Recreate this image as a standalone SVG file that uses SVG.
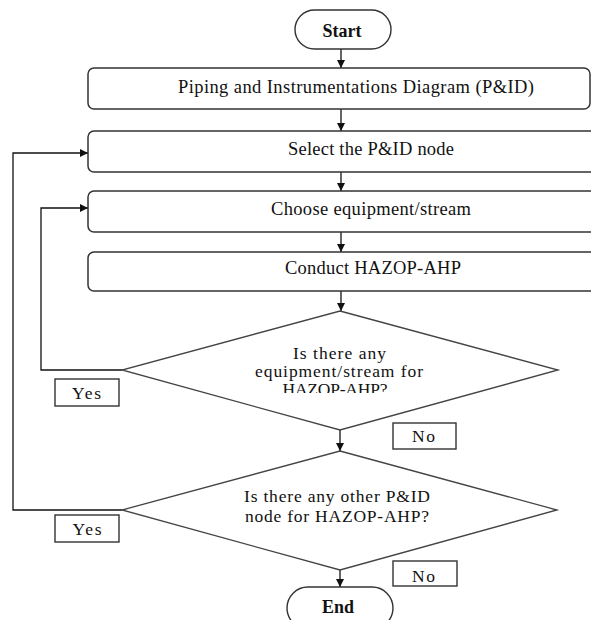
<svg xmlns="http://www.w3.org/2000/svg" width="591" height="620" viewBox="0 0 591 620">
<style>
text{font-family:"Liberation Serif","Times New Roman",serif;font-size:18.5px;fill:#111;text-anchor:middle}
.dt{font-size:17.5px}
.term{fill:#fff;stroke:#333;stroke-width:1.4}
.box{fill:#fff;stroke:#333;stroke-width:1.5}
.dia{fill:#fff;stroke:#444;stroke-width:1.3}
.lbl{fill:#fff;stroke:#333;stroke-width:1.4}
.bold{font-weight:bold;font-size:18px}
.con{fill:none;stroke:#111;stroke-width:1.3}
</style>
<defs>
<marker id="ah" viewBox="0 0 10 10" refX="10" refY="5" markerWidth="8" markerHeight="8" markerUnits="userSpaceOnUse" orient="auto">
<path d="M0,0 L10,5 L0,10 Z" fill="#111"/>
</marker>
<clipPath id="cutD1"><rect x="100" y="300" width="480" height="93"/></clipPath>
</defs>
<rect width="591" height="620" fill="#fff"/>
<g id="connectors">
<path class="con" d="M341,49 V68" marker-end="url(#ah)"/>
<path class="con" d="M341,109 V131" marker-end="url(#ah)"/>
<path class="con" d="M341,172 V191" marker-end="url(#ah)"/>
<path class="con" d="M341,232 V252" marker-end="url(#ah)"/>
<path class="con" d="M341,291 V311" marker-end="url(#ah)"/>
<path class="con" d="M340,430 V451" marker-end="url(#ah)"/>
<path class="con" d="M340,570 V587" marker-end="url(#ah)"/>
<path class="con" d="M122,370 H41 V208 H88" marker-end="url(#ah)"/>
<path class="con" d="M122,510 H13 V153 H88" marker-end="url(#ah)"/>
</g>
<g id="start">
<rect class="term" x="295" y="10" width="96" height="39" rx="19.5"/>
<text class="bold" x="342" y="37" textLength="39" lengthAdjust="spacingAndGlyphs">Start</text>
</g>
<g id="pid">
<rect class="box" x="88" y="68" width="502" height="41" rx="6"/>
<text x="356" y="93" textLength="356">Piping and Instrumentations Diagram (P&amp;ID)</text>
</g>
<g id="select">
<rect class="box" x="88" y="131" width="510" height="41" rx="6"/>
<text x="371" y="155" textLength="166">Select the P&amp;ID node</text>
</g>
<g id="choose">
<rect class="box" x="88" y="191" width="510" height="41" rx="6"/>
<text x="371" y="215" textLength="200">Choose equipment/stream</text>
</g>
<g id="conduct">
<rect class="box" x="88" y="252" width="510" height="39" rx="6"/>
<text x="373" y="274" textLength="176">Conduct HAZOP-AHP</text>
</g>
<g id="decision1">
<polygon class="dia" points="340,311 558,370 340,430 122,370"/>
<text class="dt" x="339.5" y="359" textLength="93">Is there any</text>
<text class="dt" x="339" y="377" textLength="168">equipment/stream for</text>
<g clip-path="url(#cutD1)"><text class="dt" x="335" y="395" textLength="105">HAZOP-AHP?</text></g>
</g>
<g id="yes1">
<rect class="lbl" x="55" y="379" width="64" height="27"/>
<text class="dt" x="86.5" y="399" textLength="29">Yes</text>
</g>
<g id="no1">
<rect class="lbl" x="393" y="423" width="63" height="26"/>
<text class="dt" x="423.5" y="442" textLength="23">No</text>
</g>
<g id="decision2">
<polygon class="dia" points="340,451 557,510 340,570 122,510"/>
<text class="dt" x="337" y="502" textLength="186">Is there any other P&amp;ID</text>
<text class="dt" x="337" y="522" textLength="184">node for HAZOP-AHP?</text>
</g>
<g id="yes2">
<rect class="lbl" x="55" y="515" width="64" height="27"/>
<text class="dt" x="87" y="535" textLength="29">Yes</text>
</g>
<g id="no2">
<rect class="lbl" x="393" y="561" width="64" height="25"/>
<text class="dt" x="423.5" y="582" textLength="23">No</text>
</g>
<g id="end">
<rect class="term" x="287" y="587" width="106" height="42" rx="21"/>
<text class="bold" x="338" y="613" textLength="32" lengthAdjust="spacingAndGlyphs">End</text>
</g>
</svg>
